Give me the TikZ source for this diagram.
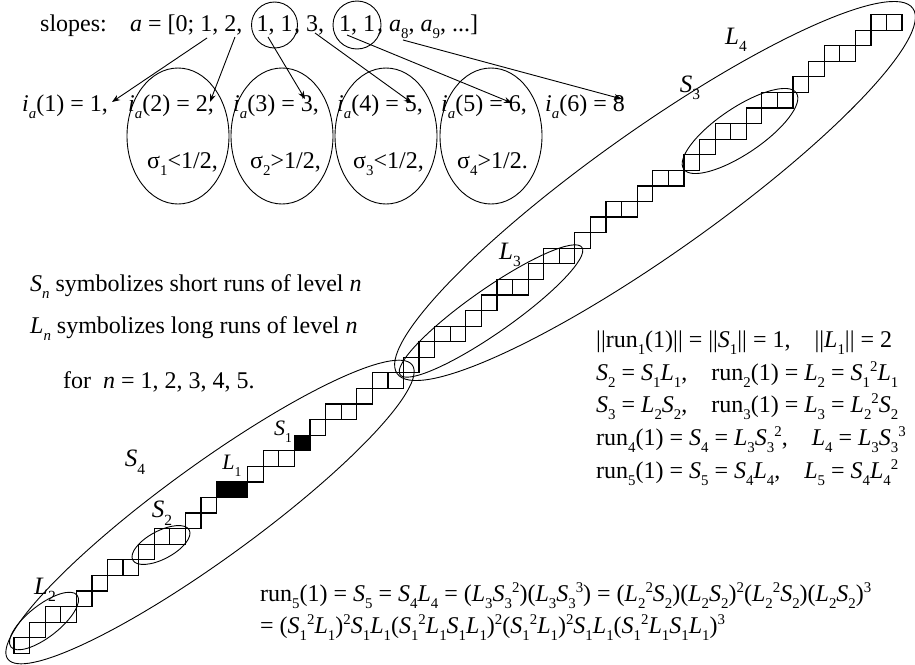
\documentclass[tikz,border=0pt]{standalone}
\usepackage{fontspec}
\usepackage{graphicx}
\setmainfont{Liberation Serif}
\usetikzlibrary{arrows.meta}
\newcommand\sub[1]{\raisebox{-0.3em}{\scalebox{0.62}{#1}}}
\newcommand\sups[1]{\raisebox{0.34em}{\scalebox{0.62}{#1}}}
\newcommand\vS[1]{\textit{S}\sub{#1}}
\newcommand\vL[1]{\textit{L}\sub{#1}}
\newcommand\runn[1]{run\sub{#1}(1)}
\begin{document}
\begin{tikzpicture}[x=1pt,y=-1pt,
  txt/.style={anchor=base west, inner sep=0pt, font=\fontsize{24}{28}\selectfont},
  lbl/.style={inner sep=0pt, font=\fontsize{25}{28}\selectfont},
  smalllbl/.style={inner sep=0pt, font=\fontsize{22}{26}\selectfont},
  cell/.style={draw, line width=1.2pt},
  ring/.style={draw, line width=0.9pt},
  arr/.style={-{Stealth[length=8pt,width=6pt]}, line width=0.9pt}]
\useasboundingbox (0,0) rectangle (915,664);

% ---- top line ----
\node[txt] (slopes) at (40,31) {slopes:};
\node[txt] (seqa) at (130,31) {\textit{a} = [0; 1, 2,};
\node[circle, ring, minimum size=46pt, inner sep=0pt, font=\fontsize{24}{28}\selectfont] (c1) at (274.5,25) {1, 1};
\node[txt] (seqb) at (294,31) {, 3,};
\node[circle, ring, minimum size=48pt, inner sep=0pt, font=\fontsize{24}{28}\selectfont] (c2) at (357,25) {1, 1};
\node[txt] (seqc) at (377,31) {, \textit{a}\sub{8}, \textit{a}\sub{9}, ...]};

% ---- i_a row ----
\node[txt] (i1) at (22,111) {\textit{i}\sub{\textit{a}}(1) = 1,};
\node[txt] (i2) at (128,111) {\textit{i}\sub{\textit{a}}(2) = 2,};
\node[txt] (i3) at (233,111) {\textit{i}\sub{\textit{a}}(3) = 3,};
\node[txt] (i4) at (337,111) {\textit{i}\sub{\textit{a}}(4) = 5,};
\node[txt] (i5) at (441,111) {\textit{i}\sub{\textit{a}}(5) = 6,};
\node[txt] (i6) at (545,111) {\textit{i}\sub{\textit{a}}(6) = 8};

% ---- sigma row ----
\node[txt] (s1) at (147,168) {σ\sub{1}<1/2,};
\node[txt] (s2) at (250,168) {σ\sub{2}>1/2,};
\node[txt] (s3) at (353,168) {σ\sub{3}<1/2,};
\node[txt] (s4) at (457,168) {σ\sub{4}>1/2.};

\foreach \cx in {178,282,386,491}
  \draw[ring] (\cx,136) ellipse [x radius=51, y radius=68];

% ---- arrows ----
\coordinate (a1s) at (207,38);  \coordinate (a1e) at (112,102);
\coordinate (a2s) at (235,37);  \coordinate (a2e) at (210,102);
\coordinate (a3s) at (268,37);  \coordinate (a3e) at (305,99);
\coordinate (a4s) at (315,33);  \coordinate (a4e) at (412,103);
\coordinate (a5s) at (347,35);  \coordinate (a5e) at (512,103);
\coordinate (a6s) at (403,40);  \coordinate (a6e) at (622,99);
\foreach \k in {1,...,6} \draw[arr] (a\k s) -- (a\k e);

% ---- left texts ----
\node[txt] (tS) at (30,291) {\textit{S}\sub{\textit{n}} symbolizes short runs of level \textit{n}};
\node[txt] (tL) at (30,333) {\textit{L}\sub{\textit{n}} symbolizes long runs of level \textit{n}};
\node[txt] (tf) at (63,388) {for\ \ \textit{n} = 1, 2, 3, 4, 5.};

% ---- right equations ----
\node[txt] (e1) at (596,347) {||\runn{1}|| = ||\vS{1}|| = 1,\quad ||\vL{1}|| = 2};
\node[txt] (e2) at (596,380) {\vS{2} = \vS{1}\vL{1},\quad \runn{2} = \vL{2} = \vS{1}\sups{2}\vL{1}};
\node[txt] (e3) at (596,412) {\vS{3} = \vL{2}\vS{2},\quad \runn{3} = \vL{3} = \vL{2}\sups{2}\vS{2}};
\node[txt] (e4) at (596,445) {\runn{4} = \vS{4} = \vL{3}\vS{3}\sups{2},\quad \vL{4} = \vL{3}\vS{3}\sups{3}};
\node[txt] (e5) at (596,478) {\runn{5} = \vS{5} = \vS{4}\vL{4},\quad \vL{5} = \vS{4}\vL{4}\sups{2}};

% ---- bottom equations ----
\node[txt] (b1) at (260,601) {\runn{5} = \vS{5} = \vS{4}\vL{4} = (\vL{3}\vS{3}\sups{2})(\vL{3}\vS{3}\sups{3}) = (\vL{2}\sups{2}\vS{2})(\vL{2}\vS{2})\sups{2}(\vL{2}\sups{2}\vS{2})(\vL{2}\vS{2})\sups{3}};
\node[txt] (b2) at (260,633) {= (\vS{1}\sups{2}\vL{1})\sups{2}\vS{1}\vL{1}(\vS{1}\sups{2}\vL{1}\vS{1}\vL{1})\sups{2}(\vS{1}\sups{2}\vL{1})\sups{2}\vS{1}\vL{1}(\vS{1}\sups{2}\vL{1}\vS{1}\vL{1})\sups{3}};

% ---- staircase ----
\fill ({14+13*15.58},{653.3-10*15.58}) rectangle ++(31.16,-15.58);
\fill ({14+18*15.58},{653.3-13*15.58}) rectangle ++(15.58,-15.58);
\foreach \c/\l [count=\r from 0] in {0/1,1/1,2/2,4/1,5/1,6/2,8/1,9/2,11/1,12/1,13/2,15/1,16/2,18/1,19/1,20/2,22/1,23/2,25/1,26/1,27/2,29/1,30/1,31/2,33/1,34/2,36/1,37/1,38/2,40/1,41/2,43/1,44/1,45/2,47/1,48/2,50/1,51/1,52/2,54/1,55/2}{
  \foreach \k in {1,...,\l}{
    \draw[cell] ({14+(\c+\k-1)*15.58},{653.3-\r*15.58}) rectangle ++(15.58,-15.58);
  }
}

% ---- run ellipses ----
\draw[ring, rotate around={36:(210,512)}] (210,512) ellipse [x radius=250, y radius=47];
\draw[ring, rotate around={35.3:(655,191)}] (655,191) ellipse [x radius=316, y radius=62];
\draw[ring, rotate around={35:(491,311)}] (491,311) ellipse [x radius=111, y radius=22];
\draw[ring, rotate around={34:(740,131)}] (740,131) ellipse [x radius=68, y radius=23];
\draw[ring, rotate around={28:(161,545)}] (161,545) ellipse [x radius=32, y radius=14];
\draw[ring, rotate around={38:(44,621)}] (44,621) ellipse [x radius=42, y radius=16];

% ---- run labels ----
\node[lbl] (lL4) at (736,40) {\vL{4}};
\node[lbl] (lS3) at (690,88) {\vS{3}};
\node[lbl] (lL3) at (510,255) {\vL{3}};
\node[lbl] (lS4) at (135,462) {\vS{4}};
\node[lbl] (lS2) at (162,513) {\vS{2}};
\node[lbl] (lL2) at (45,590) {\vL{2}};
\node[smalllbl] (lL1) at (232,466) {\vL{1}};
\node[smalllbl] (lS1) at (283,432) {\vS{1}};
\end{tikzpicture}
\end{document}
